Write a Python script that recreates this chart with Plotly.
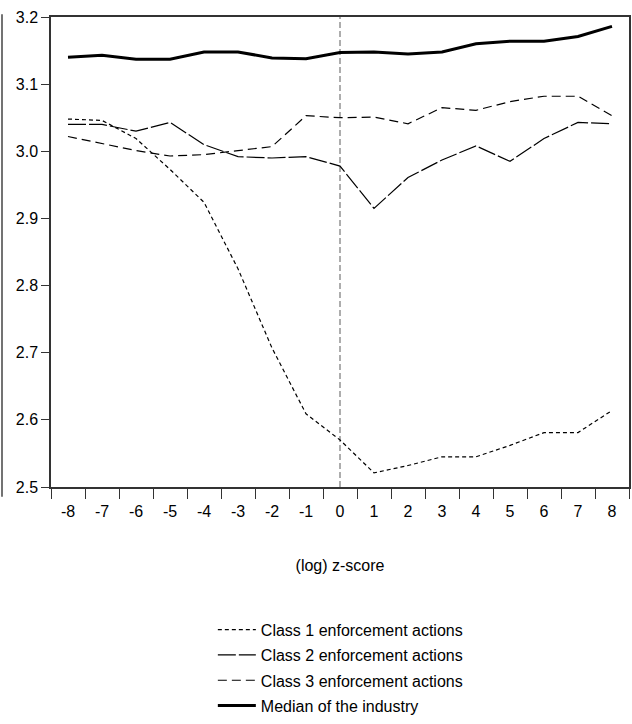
import plotly.graph_objects as go

z_scores = ["-8", "-7", "-6", "-5", "-4", "-3", "-2", "-1", "0", "1", "2", "3", "4", "5", "6", "7", "8"]
class1 = [3.048, 3.046, 3.019, 2.973, 2.924, 2.825, 2.707, 2.609, 2.570, 2.521, 2.532, 2.545, 2.545, 2.562, 2.581, 2.581, 2.614]
class2 = [3.040, 3.040, 3.030, 3.043, 3.010, 2.992, 2.990, 2.992, 2.978, 2.915, 2.961, 2.987, 3.008, 2.985, 3.019, 3.043, 3.041]
class3 = [3.022, 3.012, 3.001, 2.993, 2.995, 3.001, 3.007, 3.053, 3.050, 3.051, 3.041, 3.065, 3.061, 3.074, 3.082, 3.082, 3.053]
median = [3.140, 3.143, 3.137, 3.137, 3.148, 3.148, 3.139, 3.138, 3.147, 3.148, 3.145, 3.148, 3.160, 3.164, 3.164, 3.171, 3.186]
y_ticks = [2.5, 2.6, 2.7, 2.8, 2.9, 3.0, 3.1, 3.2]
event_x = "0"
event_idx = z_scores.index(event_x)  # category serial number on the x axis

FONT = "Liberation Sans Narrow, Arial Narrow, Liberation Sans, Arial, sans-serif"

fig = go.Figure()
fig.add_trace(go.Scatter(x=z_scores, y=class1, mode="lines", name="Class 1 enforcement actions",
                         legendgroup="c1",
                         line=dict(color="black", width=1.2, dash="4px,3px")))
fig.add_trace(go.Scatter(x=z_scores, y=class2, mode="lines", name="Class 2 enforcement actions",
                         legendgroup="c2",
                         line=dict(color="black", width=1.2, dash="18px,3px")))
fig.add_trace(go.Scatter(x=z_scores, y=class3, mode="lines", name="Class 3 enforcement actions",
                         legendgroup="c3",
                         line=dict(color="black", width=1.2, dash="9px,5px")))
fig.add_trace(go.Scatter(x=z_scores, y=median, mode="lines", name="Median of the industry",
                         legendgroup="med",
                         line=dict(color="black", width=3)))

fig.add_shape(type="line", xref="x", yref="paper", x0=event_idx, x1=event_idx, y0=0, y1=1,
              line=dict(color="#777777", width=1.2, dash="6px,3px"), layer="below")

# partial frame of neighbouring panel at far left
fig.add_shape(type="line", xref="paper", yref="paper", x0=-49/578, x1=-49/578, y0=1.006, y1=-0.021,
              line=dict(color="#444444", width=1.5))

fig.update_layout(
    width=632, height=724,
    margin=dict(l=51, r=3, t=17, b=237, autoexpand=False),
    paper_bgcolor="white", plot_bgcolor="white",
    font=dict(family=FONT, size=16, color="black"),
    showlegend=True,
    legend=dict(x=0.28, y=-0.2676, xanchor="left", yanchor="top",
                font=dict(family=FONT, size=16, color="black"),
                bgcolor="rgba(0,0,0,0)", itemwidth=38, traceorder="grouped",
                tracegroupgap=1.5),
    xaxis=dict(type="category", range=[-0.5, 16.5], tickson="boundaries",
               ticks="outside", ticklen=10, tickwidth=1.2, tickcolor="#333",
               showline=True, linecolor="#333", linewidth=1.5, mirror=True,
               showgrid=False, zeroline=False, ticklabelstandoff=9, automargin=False,
               tickfont=dict(family=FONT, size=16),
               title=dict(text="(log) z-score", font=dict(family=FONT, size=16), standoff=41)),
    yaxis=dict(range=[2.5, 3.2], tickvals=y_ticks, tickformat=".1f",
               ticks="outside", ticklen=8, tickwidth=1.2, tickcolor="#333",
               showline=True, linecolor="#333", linewidth=1.5, mirror=True,
               showgrid=False, zeroline=False, automargin=False,
               tickfont=dict(family=FONT, size=16)),
)

fig.write_html("out.html")
